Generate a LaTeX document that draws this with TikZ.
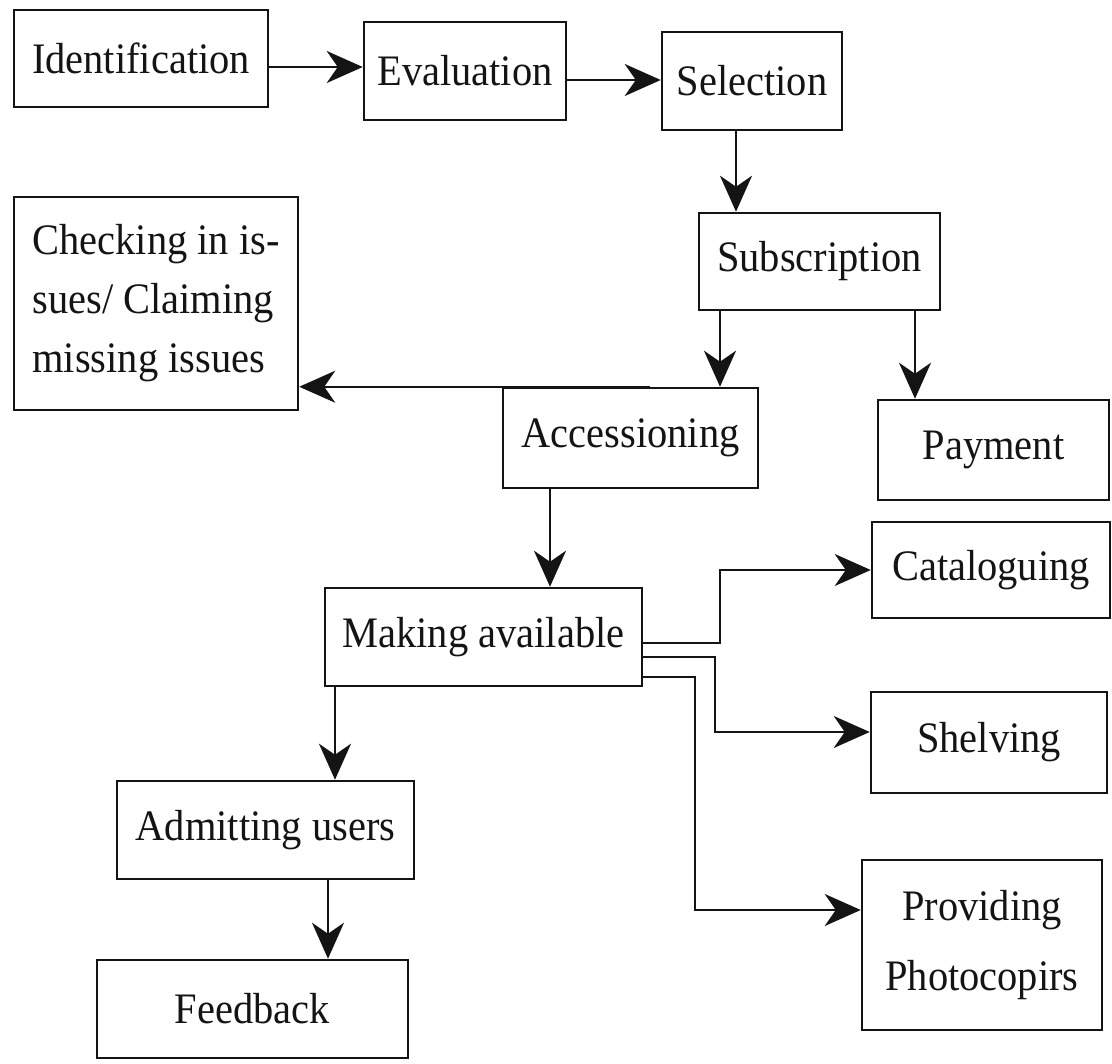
\documentclass[tikz,border=0pt]{standalone}
\usepackage{fontspec}
\setmainfont[FakeStretch=0.93]{Liberation Serif}
\usetikzlibrary{arrows.meta}
\definecolor{ink}{HTML}{141414}
\begin{document}
\begin{tikzpicture}[x=1pt,y=-1pt,
  box/.style={draw=ink, line width=2.5pt, inner sep=0pt, align=center, text=ink,
    font=\fontsize{43.5}{59}\selectfont},
  arr/.style={draw=ink, line width=2.3pt, -{Stealth[length=36pt,width=32pt,inset=11pt]}}]
\useasboundingbox[fill=white] (0,0) rectangle (1112,1064);

\node[box, minimum width=254pt, minimum height=97pt] (ident) at (141,58.5) {Identification};
\node[box, minimum width=202pt, minimum height=98pt] (eval) at (465,71) {Evaluation};
\node[box, minimum width=180pt, minimum height=98pt] (sel) at (752,81) {Selection};
\node[box, minimum width=241pt, minimum height=97pt] (sub) at (819.5,261.5) {Subscription};
\node[box, minimum width=284pt, minimum height=213pt, align=left] (check) at (156,303.5) {Checking in is-\\sues/ Claiming\\missing issues};
\node[box, minimum width=255pt, minimum height=100pt] (acc) at (630.5,438) {Accessioning};
\node[box, minimum width=231pt, minimum height=100pt] (pay) at (993.5,450) {Payment};
\node[box, minimum width=238pt, minimum height=96pt] (cat) at (991,570) {Cataloguing};
\node[box, minimum width=317pt, minimum height=98pt] (ma) at (483.5,637) {Making available};
\node[box, minimum width=236pt, minimum height=101pt] (shelv) at (989,742.5) {Shelving};
\node[box, minimum width=297pt, minimum height=98pt] (adm) at (265.5,830) {Admitting users};
\node[box, minimum width=240pt, minimum height=170pt, font=\fontsize{43.5}{70}\selectfont] (photo) at (982,945) {Providing\\Photocopirs};
\node[box, minimum width=311pt, minimum height=98pt] (feed) at (252.5,1009) {Feedback};

\draw[arr] (ident.east |- 0,67) -- (eval.west |- 0,67);
\draw[arr] (eval.east |- 0,80) -- (sel.west |- 0,80);
\draw[arr] (sel.south -| 736,0) -- (sub.north -| 736,0);
\draw[arr] (sub.south -| 720,0) -- (acc.north -| 720,0);
\draw[arr] (sub.south -| 915,0) -- (pay.north -| 915,0);
\draw[arr] (acc.north -| 650,0) -- (check.east |- acc.north);
\draw[arr] (acc.south -| 550,0) -- (ma.north -| 550,0);
\draw[arr] (ma.east |- 0,643) -- (720,643) |- (cat.west);
\draw[arr] (ma.east |- 0,657) -- (715,657) |- (shelv.west |- 0,732);
\draw[arr] (ma.east |- 0,677) -- (695,677) |- (photo.west |- 0,910);
\draw[arr] (ma.south -| 335,0) -- (adm.north -| 335,0);
\draw[arr] (adm.south -| 328,0) -- (feed.north -| 328,0);
\end{tikzpicture}
\end{document}
